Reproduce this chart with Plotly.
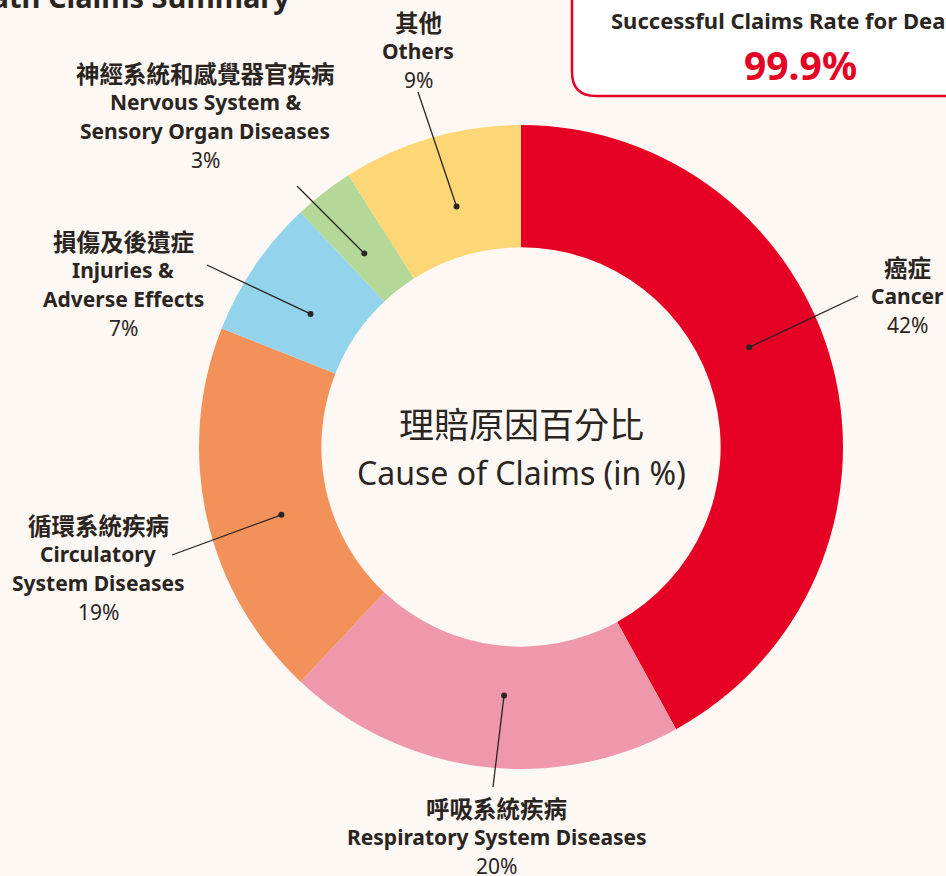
import math
import plotly.graph_objects as go

W, H = 946, 876

# ---- data ----
categories_zh = ["癌症", "呼吸系統疾病", "循環系統疾病", "損傷及後遺症", "神經系統和感覺器官疾病", "其他"]
categories_en = ["Cancer", "Respiratory System Diseases", "Circulatory<br>System Diseases",
                 "Injuries &<br>Adverse Effects", "Nervous System &<br>Sensory Organ Diseases", "Others"]
values = [42, 20, 19, 7, 3, 9]
success_rate = "99.9%"

# ---- style ----
colors = ["#E60023", "#EF97AB", "#F29159", "#93D3EB", "#B3D897", "#FDD675"]
BG = "#FDF8F4"
TXT = "#2B2522"
RED = "#E60023"
FONT = "Noto Sans, Noto Sans CJK TC, sans-serif"
FONT_ZH = "Noto Sans CJK TC, Noto Sans, sans-serif"

cx, cy, R = 521, 447, 322          # pie centre / radius in pixels
hole = 0.62
dot_r = 249                         # radius of leader dots (px)
dot_angle_offset = [-9.2, -3.3, -3.2, -1.9, -1.2, 1.2]   # degrees
label_pos = [(907, 267), (497, 808), (98, 525), (123, 241), (205, 73), (418, 22)]  # first line centre
line_end = [(858, 296), (493, 787), (172, 555), (207, 265), (297, 186), (418, 92)]
LINE_H = 29


def px(x):
    return x / W


def py(y):
    return 1 - y / H


fig = go.Figure()
fig.add_trace(go.Pie(
    values=values,
    labels=[z for z in categories_zh],
    sort=False,
    direction="clockwise",
    rotation=0,
    hole=hole,
    marker=dict(colors=colors, line=dict(width=0)),
    textinfo="none",
    showlegend=False,
    domain=dict(x=[px(cx - R), px(cx + R)], y=[py(cy + R), py(cy - R)]),
))

shapes = []
annotations = []

total = sum(values)
cum = 0
for i, v in enumerate(values):
    mid = (cum + v / 2) / total * 360 + dot_angle_offset[i]
    cum += v
    a = math.radians(mid)
    dx_ = cx + dot_r * math.sin(a)
    dy_ = cy - dot_r * math.cos(a)
    ex, ey = line_end[i]
    shapes.append(dict(type="line", xref="paper", yref="paper",
                       x0=px(dx_), y0=py(dy_), x1=px(ex), y1=py(ey),
                       line=dict(color=TXT, width=1.3)))
    rr = 3
    shapes.append(dict(type="circle", xref="paper", yref="paper",
                       x0=px(dx_ - rr), x1=px(dx_ + rr), y0=py(dy_ + rr), y1=py(dy_ - rr),
                       fillcolor=TXT, line=dict(width=0)))
    lx, ly = label_pos[i]
    lines = [("<b>%s</b>" % categories_zh[i], FONT_ZH, 23.5)]
    lines += [("<b>%s</b>" % s, FONT, 21) for s in categories_en[i].split("<br>")]
    lines += [("%d%%" % v, FONT, 21)]
    for k, (t, fam, sz) in enumerate(lines):
        annotations.append(dict(x=px(lx), y=py(ly + k * LINE_H), xref="paper", yref="paper",
                                text=t, showarrow=False, xanchor="center", yanchor="middle",
                                font=dict(family=fam, size=sz, color=TXT)))

# centre text
annotations.append(dict(x=px(cx), y=py(422), xref="paper", yref="paper", text="理賠原因百分比",
                        showarrow=False, xanchor="center", yanchor="middle",
                        font=dict(family=FONT_ZH, size=35, color=TXT)))
annotations.append(dict(x=px(cx), y=py(472), xref="paper", yref="paper", text="Cause of Claims (in %)",
                        showarrow=False, xanchor="center", yanchor="middle",
                        font=dict(family=FONT, size=32, color=TXT)))

# title (cut off at the top-left)
annotations.append(dict(x=px(292), y=py(-4), xref="paper", yref="paper",
                        text="<b>Death Claims Summary</b>", showarrow=False,
                        xanchor="right", yanchor="middle",
                        font=dict(family=FONT, size=29, color=TXT)))

# rounded box top-right
bx0, bx1, by0, by1, cr = 572, 1100, -40, 96, 24
path = ("M {a},{b} L {a},{c} Q {a},{d} {e},{d} L {f},{d} L {f},{b} Z").format(
    a=px(bx0), b=py(by0), c=py(by1 - cr), d=py(by1), e=px(bx0 + cr), f=px(bx1))
shapes.append(dict(type="path", xref="paper", yref="paper", path=path,
                   fillcolor="white", line=dict(color=RED, width=2.5)))
annotations.append(dict(x=px(609), y=py(20), xref="paper", yref="paper",
                        text="<b>Successful Claims Rate for Death Claims</b>", showarrow=False,
                        xanchor="left", yanchor="middle",
                        font=dict(family=FONT, size=22, color=TXT)))
annotations.append(dict(x=px(800), y=py(64), xref="paper", yref="paper",
                        text="<b>%s</b>" % success_rate, showarrow=False,
                        xanchor="center", yanchor="middle",
                        font=dict(family=FONT, size=39, color=RED)))

fig.update_layout(
    width=W, height=H,
    margin=dict(l=0, r=0, t=0, b=0),
    paper_bgcolor=BG, plot_bgcolor=BG,
    shapes=shapes, annotations=annotations,
)

fig.write_html("out.html", config={"displayModeBar": False},
               post_script="document.body.style.margin='0';document.body.style.overflow='hidden';")
